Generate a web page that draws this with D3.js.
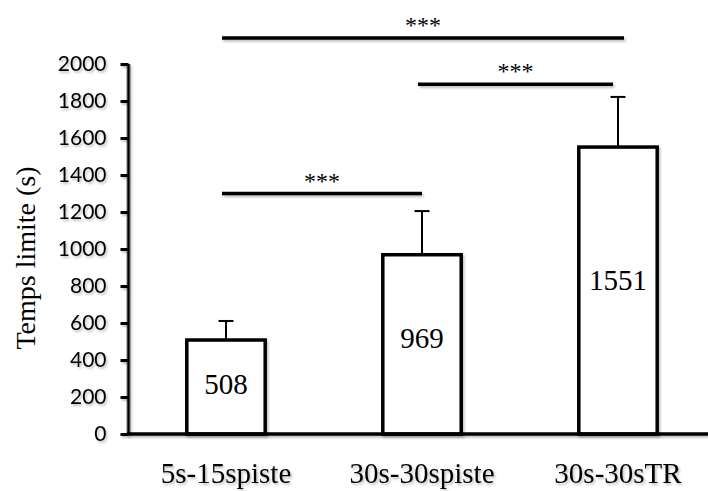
<!DOCTYPE html>
<html>
<head>
<meta charset="utf-8">
<script src="https://cdn.jsdelivr.net/npm/d3@7"></script>
<style>
  html, body { margin: 0; padding: 0; background: #fff; }
  svg { display: block; }
</style>
</head>
<body>
<svg id="chart" width="708" height="491"></svg>
<script>
// ---- data ----
const categories = ["5s-15spiste", "30s-30spiste", "30s-30sTR"];
const means = [508, 969, 1551];
const sds = [103, 236, 271];
const yTicks = [0, 200, 400, 600, 800, 1000, 1200, 1400, 1600, 1800, 2000];
const yLabel = "Temps limite (s)";
const sigFrom = [0, 1, 0];
const sigTo = [1, 2, 2];
const sigLevel = [1300, 1890, 2140];
const sigText = ["***", "***", "***"];

// ---- layout ----
const svg = d3.select("#chart");
const x = d3.scaleBand().domain(categories).range([128, 716]).paddingInner(0.6).paddingOuter(0.3);
const y = d3.scaleLinear().domain([0, 2000]).range([434, 64]);

const defs = svg.append("defs");
const f = defs.append("filter").attr("id", "sh").attr("filterUnits", "userSpaceOnUse")
  .attr("x", -1000).attr("y", -1000).attr("width", 3000).attr("height", 3000);
f.append("feDropShadow").attr("dx", 1.5).attr("dy", 2).attr("stdDeviation", 1).attr("flood-color", "#000").attr("flood-opacity", 0.25);

const serif = "'Liberation Serif', 'Times New Roman', serif";

// bars
const cx = d => x(d) + x.bandwidth() / 2;
svg.append("g").attr("filter", "url(#sh)").selectAll("rect").data(categories).join("rect")
  .attr("x", d => x(d))
  .attr("y", (d, i) => y(means[i]))
  .attr("width", x.bandwidth())
  .attr("height", (d, i) => y(0) - y(means[i]))
  .attr("fill", "#fff").attr("stroke", "#000").attr("stroke-width", 3.5);

// error bars
const eb = svg.append("g").attr("stroke", "#000").attr("stroke-width", 2);
categories.forEach((c, i) => {
  eb.append("line").attr("x1", cx(c)).attr("x2", cx(c)).attr("y1", y(means[i])).attr("y2", y(means[i] + sds[i]));
  eb.append("line").attr("x1", cx(c) - 7.5).attr("x2", cx(c) + 7.5).attr("y1", y(means[i] + sds[i])).attr("y2", y(means[i] + sds[i]));
});

// value labels
svg.append("g").selectAll("text").data(categories).join("text")
  .attr("x", d => cx(d))
  .attr("y", (d, i) => y(means[i] * 0.54) + 11)
  .attr("text-anchor", "middle")
  .attr("font-family", serif).attr("font-size", 29)
  .text((d, i) => means[i]);

// y axis
const yAxis = d3.axisLeft(y).tickValues(yTicks).tickFormat(d3.format("d")).tickSize(8).tickPadding(14).tickSizeOuter(0);
const ga = svg.append("g").attr("transform", "translate(128.5,0)").call(yAxis);
ga.select(".domain").attr("stroke-width", 3).attr("d", `M0,${y(2000)}V${y(0)}`);
ga.selectAll(".tick line").attr("stroke-width", 3);
ga.selectAll(".tick text").attr("font-family", "Lato, 'Open Sans', sans-serif").attr("font-size", 21).attr("fill", "#000");
ga.attr("filter", "url(#sh)");

// x axis
const xAxis = d3.axisBottom(x).tickSize(0).tickPadding(28).tickSizeOuter(0);
const gx = svg.append("g").attr("transform", `translate(0,${y(0)})`).call(xAxis);
gx.select(".domain").attr("stroke-width", 3.5).attr("d", `M127,0H708`);
gx.selectAll(".tick text").attr("font-family", serif).attr("font-size", 29).attr("fill", "#000");
gx.attr("filter", "url(#sh)");

// y label
svg.append("text")
  .attr("transform", `translate(35,258) rotate(-90)`)
  .attr("text-anchor", "middle")
  .attr("font-family", serif).attr("font-size", 28)
  .text(yLabel);

// significance
const sg = svg.append("g");
sigLevel.forEach((lv, i) => {
  const x1 = cx(categories[sigFrom[i]]) - 4;
  const x2 = cx(categories[sigTo[i]]) + (sigTo[i] === 2 ? (sigFrom[i] === 0 ? 6 : -5) : 0);
  sg.append("line").attr("x1", x1).attr("x2", x2).attr("y1", y(lv)).attr("y2", y(lv))
    .attr("stroke", "#000").attr("stroke-width", 3.5).attr("filter", "url(#sh)");
  sg.append("text").attr("x", (x1 + x2) / 2).attr("y", y(lv) - 5)
    .attr("text-anchor", "middle").attr("font-family", serif).attr("font-size", 24).attr("fill", "#000")
    .text(sigText[i]);
});
</script>
</body>
</html>
